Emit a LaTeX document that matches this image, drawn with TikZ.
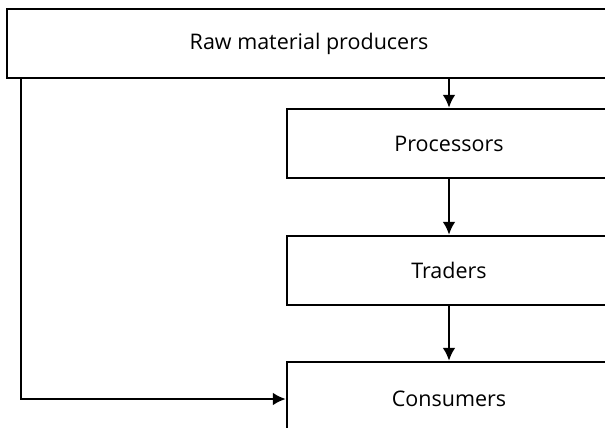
\documentclass[tikz,border=0pt]{standalone}
\usepackage{fontspec}
\setmainfont{Open Sans}
\usetikzlibrary{positioning,arrows.meta}

\begin{document}
\begin{tikzpicture}[x=1pt,y=-1pt,-{Latex[length=13pt,width=13pt]},on grid,
line width=2.5pt,
stage/.style={rectangle,draw,minimum height=69pt,font=\fontsize{21.5}{26}\selectfont}
]
\path[use as bounding box,clip] (0,0) rectangle (605,428);
\node[stage,minimum width=604pt] (Raw) at (309,43.5) {Raw material producers};
\node[stage,minimum width=324pt] (Proc) [below right=100pt and 140pt of Raw] {Processors};
\node[stage,minimum width=324pt] (Trad) [below=127pt of Proc] {Traders};
\node[stage,minimum width=324pt,minimum height=74pt] (Cons) [below=128.5pt of Trad] {Consumers};
\draw (Raw.south -| Proc) -- (Proc);
\draw (Proc) -- (Trad);
\draw (Trad) -- (Cons);
\draw ([xshift=15pt]Raw.south west) |- (Cons.west);
\end{tikzpicture}
\end{document}
